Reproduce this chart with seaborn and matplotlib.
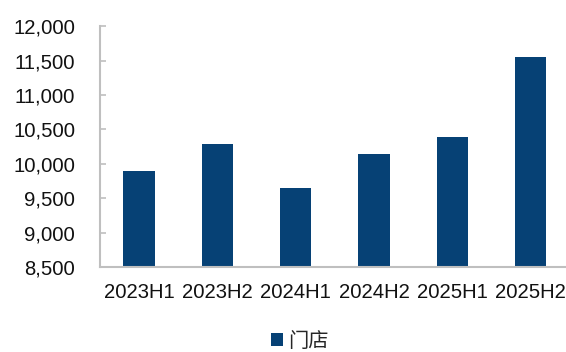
import matplotlib
matplotlib.use("Agg")
import matplotlib.pyplot as plt
import seaborn as sns
import pandas as pd
from matplotlib.patches import Patch
from matplotlib.ticker import FuncFormatter

categories = ["2023H1", "2023H2", "2024H1", "2024H2", "2025H1", "2025H2"]
stores = [9895, 10285, 9655, 10140, 10385, 11560]
series_name = "门店"

df = pd.DataFrame({"period": categories, "value": stores})

sns.set_style("white")
plt.rcParams['font.family'] = ['Liberation Sans', 'Noto Sans CJK SC', 'DejaVu Sans']

BAR = "#064175"
GRID = "#bfbfbf"
FS = 14.6

fig = plt.figure(figsize=(5.66, 3.52), dpi=100)
ax = fig.add_axes([0.1767, 0.2415, 0.8297, 0.6838])
sns.barplot(data=df, x="period", y="value", color=BAR, width=0.4, ax=ax,
            saturation=1, edgecolor="none")

ax.set_ylim(8500, 12000)
ax.set_yticks(range(8500, 12001, 500))
ax.yaxis.set_major_formatter(FuncFormatter(lambda v, p: f"{int(v):,}"))
ax.set_xlim(-0.5, len(categories) - 0.5)
ax.set_xlabel("")
ax.set_ylabel("")

for s in ["top", "right"]:
    ax.spines[s].set_visible(False)
for s in ["left", "bottom"]:
    ax.spines[s].set_color(GRID)
    ax.spines[s].set_linewidth(1.5)

ax.tick_params(axis="y", direction="in", length=4.5, width=1.2, color=GRID,
               labelsize=FS, pad=18, labelcolor="#111111", left=True)
ax.tick_params(axis="x", length=0, labelsize=FS, pad=11.5, labelcolor="#111111")

handles = [Patch(facecolor=BAR, edgecolor="none", label=series_name)]
fig.legend(handles=handles, loc="center", bbox_to_anchor=(0.53, 0.03),
           frameon=False, handlelength=0.6, handleheight=0.6, handletextpad=0.25,
           prop={"family": ["Noto Sans CJK SC", "DejaVu Sans"], "size": FS})

fig.savefig("out.png", dpi=100)
